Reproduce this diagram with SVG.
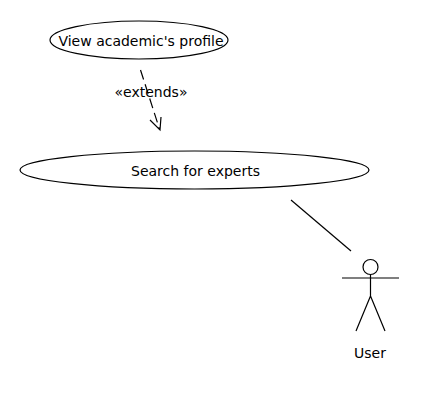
<svg xmlns="http://www.w3.org/2000/svg" width="440" height="400" viewBox="0 0 440 400">
<style>
.s{fill:none;stroke:#000;stroke-width:1.200}
.e{fill:#fff;stroke:#000;stroke-width:1.200}
text{font-family:"DejaVu Sans",sans-serif;font-size:14px;fill:#000;text-anchor:middle}
</style>
<rect width="440" height="400" fill="#fff"/>
<g id="connectors">
<path class="s" d="M140.500 70L159.500 129" stroke-dasharray="10 5"/>
<path class="s" d="M150 120L160 130L161 117"/>
<path class="s" d="M291 200L351 251"/>
</g>
<g id="view-profile">
<ellipse class="e" cx="139" cy="40" rx="89" ry="19"/>
<text x="141" y="46">View academic's profile</text>
</g>
<g id="search">
<ellipse class="e" cx="194.500" cy="170" rx="174.500" ry="19"/>
<text x="195.500" y="176">Search for experts</text>
</g>
<g id="extends-label">
<text x="151" y="97">«extends»</text>
</g>
<g id="user">
<circle class="s" cx="370.500" cy="267" r="7.500"/>
<path class="s" d="M370.500 275V296M342 278H399M370.500 296L356 331M370.500 296L385 331"/>
<text x="370" y="358">User</text>
</g>
</svg>
